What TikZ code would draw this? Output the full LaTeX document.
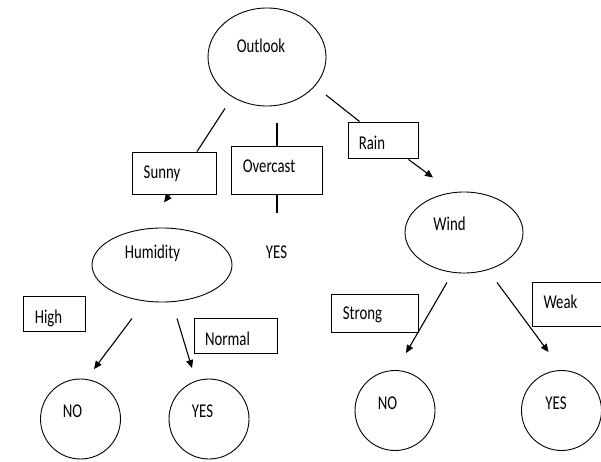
\documentclass[tikz,border=0pt]{standalone}
\usepackage{fontspec}
\setmainfont{Carlito}
\usetikzlibrary{shapes.geometric,arrows.meta}
\newcommand{\tall}[1]{\scalebox{1}[1.32]{#1}}
\begin{document}
\begin{tikzpicture}[x=1pt,y=-1pt,
  ell/.style={draw,ellipse,line width=0.9pt,inner sep=0pt},
  box/.style={draw,rectangle,line width=0.9pt,inner sep=0pt},
  leaf/.style={draw,circle,line width=0.9pt,inner sep=0pt,minimum size=80},
  txt/.style={inner sep=0pt,text height=12.6pt,text depth=0pt,font=\fontsize{14.8}{17}\selectfont},
  edge/.style={line width=1.1pt},
  arr/.style={line width=1.1pt,-{Triangle[length=8pt,width=7pt]}}]
  \useasboundingbox (0,0) rectangle (601,462);
  \node[ell,minimum width=118,minimum height=98] (outlook) at (267,57) {};
  \node[box,minimum width=84,minimum height=42] (sunny) at (174,173) {};
  \node[box,minimum width=91,minimum height=48] (overcast) at (276.5,170) {};
  \node[box,minimum width=70,minimum height=36] (rain) at (383,140) {};
  \node[ell,minimum width=140,minimum height=74] (humidity) at (162,265) {};
  \node[ell,minimum width=118,minimum height=81] (wind) at (464,232.5) {};
  \node[box,minimum width=62,minimum height=35] (high) at (54,313.5) {};
  \node[box,minimum width=83,minimum height=35] (normal) at (235.5,335.5) {};
  \node[box,minimum width=87,minimum height=38] (strong) at (374.5,313) {};
  \node[box,minimum width=72,minimum height=44] (weak) at (568,304) {};
  \node[leaf] (no1) at (80.5,419) {};
  \node[leaf] (yes1) at (209,419) {};
  \node[leaf] (no2) at (395,410.5) {};
  \node[leaf] (yes2) at (561.5,410.5) {};
  \node[txt] (outlookt) at (261,46) {\tall{Outlook}};
  \node[txt] (sunnyt) at (162,172) {\tall{Sunny}};
  \node[txt] (overcastt) at (269,166.5) {\tall{Overcast}};
  \node[txt] (raint) at (372,143.5) {\tall{Rain}};
  \node[txt] (humidityt) at (152.5,252) {\tall{Humidity}};
  \node[txt] (yes0) at (276.5,252.5) {\tall{YES}};
  \node[txt] (windt) at (449.5,224) {\tall{Wind}};
  \node[txt] (hight) at (48.5,317.5) {\tall{High}};
  \node[txt] (normalt) at (227.5,339) {\tall{Normal}};
  \node[txt] (strongt) at (362.5,313.5) {\tall{Strong}};
  \node[txt] (weakt) at (560.5,302.5) {\tall{Weak}};
  \node[txt] (no1t) at (72.5,411.5) {\tall{NO}};
  \node[txt] (yes1t) at (202.5,411.5) {\tall{YES}};
  \node[txt] (no2t) at (387.5,403.5) {\tall{NO}};
  \node[txt] (yes2t) at (556,403.5) {\tall{YES}};
  \draw[edge] ([shift={(-42,2)}]outlook.south) -- ([shift={(23,0)}]sunny.north);
  \draw[arr] ([shift={(-4,0)}]sunny.south) -- ([shift={(-10,8)}]sunny.south);
  \draw[edge] ([shift={(0.5,-23)}]overcast.north) -- ([shift={(0.5,0)}]overcast.north);
  \draw[edge] ([shift={(0.5,0)}]overcast.south) -- ([shift={(0.5,19)}]overcast.south);
  \draw[edge] ([shift={(59,38)}]outlook.center) -- ([shift={(12,0)}]rain.north west);
  \draw[arr] ([shift={(-10,1)}]rain.south east) -- ([shift={(-31,-14)}]wind.north);
  \draw[arr] ([shift={(-30,16)}]humidity.south) -- ([shift={(13.5,-9.5)}]no1.north);
  \draw[arr] ([shift={(15,16)}]humidity.south) -- ([shift={(-17,-10.5)}]yes1.north);
  \draw[arr] ([shift={(-17,9)}]wind.south) -- ([shift={(11,-17)}]no2.north);
  \draw[arr] ([shift={(33,9)}]wind.south) -- ([shift={(-13,-18)}]yes2.north);
\end{tikzpicture}
\end{document}
